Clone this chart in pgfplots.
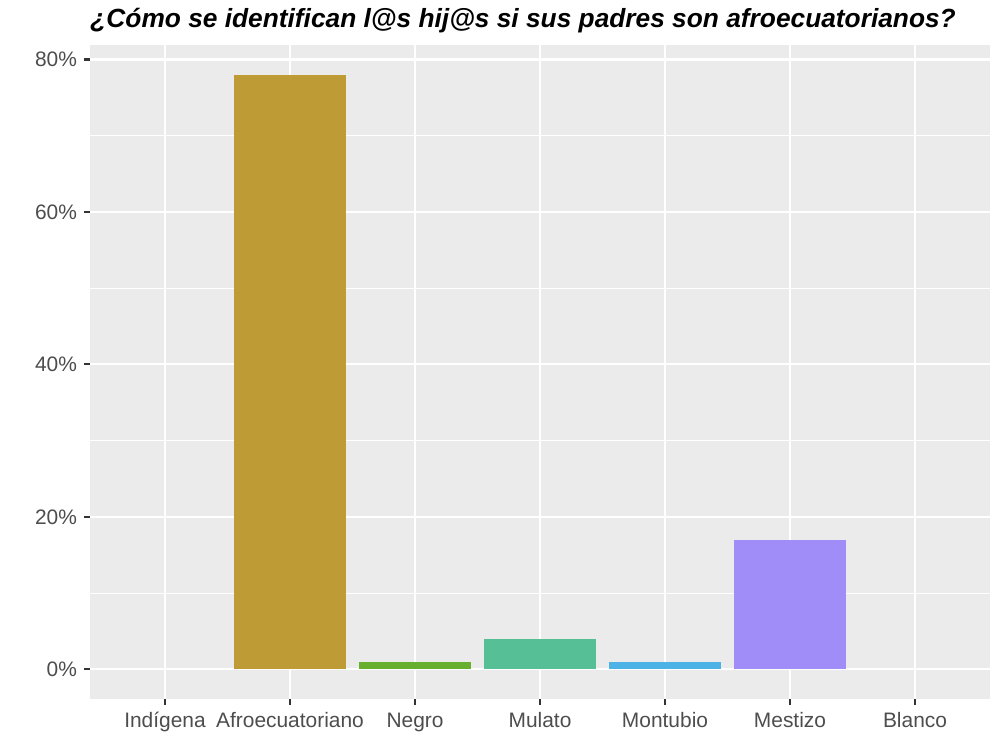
\documentclass[border=0pt]{standalone}
\usepackage{fontspec}
\setmainfont{Liberation Sans}
\usepackage{pgfplots}
\pgfplotsset{compat=1.18}

\definecolor{panelbg}{HTML}{EBEBEB}
\definecolor{ticktxt}{HTML}{4D4D4D}
\definecolor{tickln}{HTML}{333333}
\definecolor{cAfro}{HTML}{BE9B35}
\definecolor{cNeg}{HTML}{68AE2F}
\definecolor{cMul}{HTML}{56BF96}
\definecolor{cMon}{HTML}{4DB2E6}
\definecolor{cMes}{HTML}{A08DF8}

\begin{document}
\begin{tikzpicture}[x=1bp,y=1bp]
\path[use as bounding box] (-45,-25.5) rectangle (455,349.5);
\begin{axis}[
    at={(0,0)}, anchor=south west,
    scale only axis,
    width=450bp, height=327bp,
    ybar, bar width=0.9, bar shift=0pt,
    xmin=0.4, xmax=7.6,
    ymin=-3.9, ymax=81.9,
    axis background/.style={fill=panelbg},
    axis line style={draw=none},
    xtick={1,...,7},
    xticklabels={Indígena,Afroecuatoriano,Negro,Mulato,Montubio,Mestizo,Blanco},
    ytick={0,20,40,60,80},
    yticklabel={\pgfmathprintnumber{\tick}\%},
    minor ytick={10,30,50,70},
    grid=both,
    major grid style={white, line width=1.1bp},
    minor grid style={white, line width=0.55bp},
    tick align=outside,
    xtick pos=bottom, ytick pos=left,
    major tick length=3bp, minor tick length=0pt,
    tick style={tickln, line width=1.1bp},
    ticklabel style={font=\fontsize{10.5}{12}\selectfont, text=ticktxt},
    xticklabel style={text height=7.6bp, text depth=2.2bp},
    yticklabel style={/pgf/number format/assume math mode=true},
    clip=false,
]
% Indígena and Blanco are 0 %: nothing visible is drawn for them
\addplot[draw=none, fill=none] coordinates {(1,0)};
\addplot[draw=none, fill=cAfro] coordinates {(2,78)};
\addplot[draw=none, fill=cNeg] coordinates {(3,1)};
\addplot[draw=none, fill=cMul] coordinates {(4,4)};
\addplot[draw=none, fill=cMon] coordinates {(5,1)};
\addplot[draw=none, fill=cMes] coordinates {(6,17)};
\addplot[draw=none, fill=none] coordinates {(7,0)};
\node[anchor=base west, inner sep=0pt, font=\fontsize{13.2}{15}\selectfont\bfseries\itshape]
  at (rel axis cs:0,1) [yshift=8.5bp] {¿Cómo se identifican l@s hij@s si sus padres son afroecuatorianos?};
\end{axis}
\end{tikzpicture}
\end{document}
